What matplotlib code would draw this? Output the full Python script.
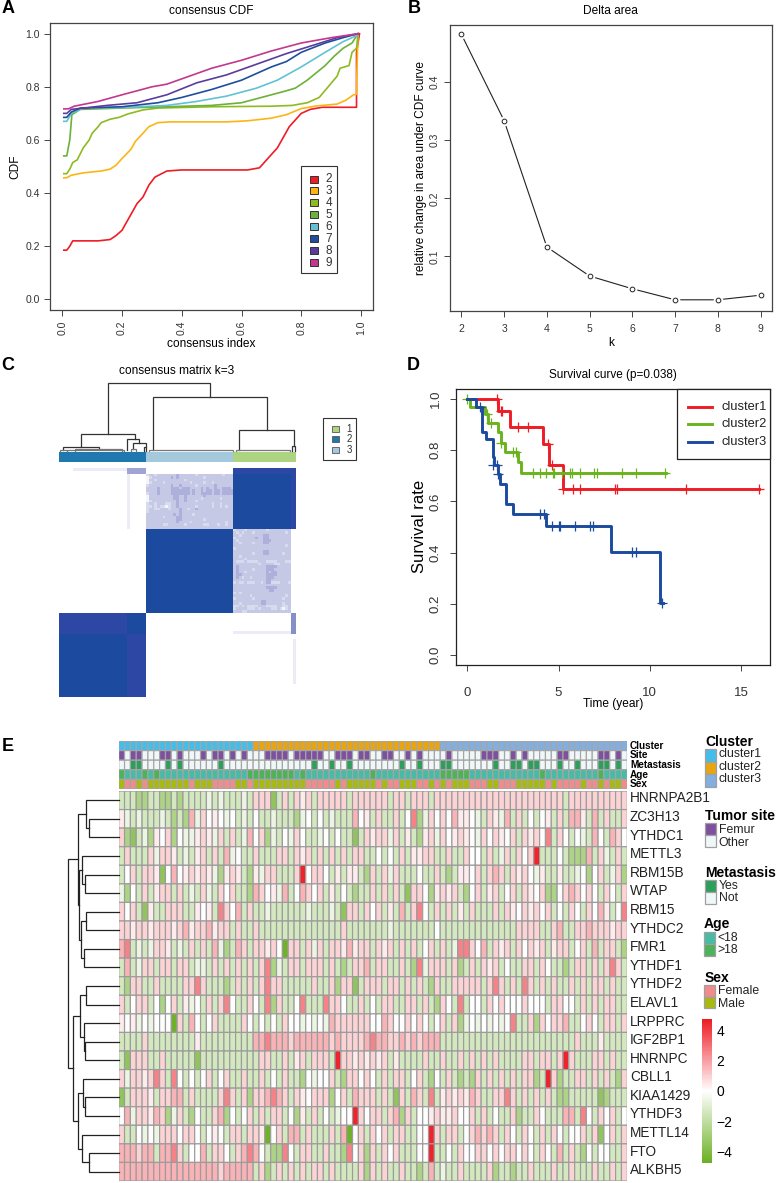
import numpy as np
import matplotlib
matplotlib.use("Agg")
import matplotlib.pyplot as plt
from matplotlib.colors import LinearSegmentedColormap, ListedColormap
from matplotlib.patches import Rectangle

plt.rcParams['font.family'] = ['Liberation Sans', 'DejaVu Sans']

W, H = 777, 1183

# ---- A: consensus CDF
cdf_labels = ['2', '3', '4', '5', '6', '7', '8', '9']
cdf_colors = ['#EE1C25', '#FDB515', '#8DBB1F', '#6BB13A', '#62C2D4', '#1F4E9E', '#5B3C9E', '#C2388E']
cdf_x = [
    [.005, .015, .025, .035, .12, .16, .18, .2, .22, .24, .25, .27, .29, .31, .35, .4, .62, .66, .68, .72, .74, .76, .78, .8, .83, .87, .985, .985, .995],
    [.005, .015, .03, .07, .13, .16, .18, .2, .23, .245, .27, .29, .32, .36, .55, .62, .7, .75, .8, .85, .92, .95, .975, .985, .985, .99],
    [.005, .015, .025, .035, .05, .07, .09, .1, .12, .13, .16, .19, .22, .27, .32, .5, .7, .77, .82, .86, .89, .92, .93, .96, .97, .985, .99],
    [.005, .015, .025, .032, .06, .2, .35, .5, .6, .65, .75, .78, .82, .88, .91, .94, .97, .99],
    [.005, .015, .03, .07, .2, .35, .45, .55, .65, .72, .8, .88, .94, .99],
    [.005, .015, .03, .06, .2, .32, .4, .5, .6, .7, .75, .8, .88, .94, .99],
    [.005, .015, .03, .15, .25, .35, .45, .55, .65, .75, .85, .92, .99],
    [.005, .02, .04, .12, .2, .3, .35, .45, .5, .6, .7, .8, .9, .99],
]
cdf_y = [
    [.185, .185, .2, .22, .22, .225, .24, .26, .3, .34, .36, .385, .43, .46, .483, .487, .487, .495, .52, .57, .61, .65, .675, .7, .715, .723, .723, .93, 1.0],
    [.457, .458, .467, .476, .483, .49, .505, .53, .565, .595, .625, .65, .665, .668, .668, .672, .682, .695, .718, .728, .735, .75, .77, .772, .8, 1.0],
    [.473, .473, .49, .515, .525, .57, .6, .625, .65, .665, .678, .685, .698, .713, .72, .725, .727, .73, .74, .76, .8, .84, .87, .88, .93, .945, 1.0],
    [.54, .54, .6, .695, .715, .72, .725, .73, .74, .755, .785, .795, .825, .88, .915, .945, .965, 1.0],
    [.67, .67, .7, .72, .722, .73, .745, .765, .795, .825, .875, .93, .97, .995],
    [.685, .685, .705, .72, .725, .74, .76, .79, .825, .875, .895, .93, .965, .985, 1.0],
    [.7, .7, .715, .73, .74, .77, .815, .845, .885, .925, .96, .985, 1.0],
    [.717, .717, .727, .745, .77, .8, .81, .85, .87, .9, .935, .965, .985, 1.0],
]

# ---- B: delta area
delta_k = [2, 3, 4, 5, 6, 7, 8, 9]
delta_area = [.483, .334, .116, .066, .044, .025, .025, .033]

# ---- C: consensus matrix, read as cluster sizes and the two textured blocks
c_sizes = [32, 32, 23]
c_bar_colors = ['#1F78AE', '#A4C9DC', '#ACD481']
c_texture_a = [
    "12212222222322222212222222221222", "01222222232322222222212222222222",
    "02212222222222122222222222222222", "01222212222222221222212212222222",
    "12222222232232222212222223222222", "22223222233323332222323223223332",
    "22223222233333332322323323323333", "12223222233333332322333323323333",
    "02222222223322322222232222222222", "02222222223322322222122222212222",
    "01222222222322322212222222222222", "12212221122322222222222212212222",
    "11212110122322222212222212212122", "12211222122232212232222222222222",
    "12222222222232222222222222222222", "22222222223232222122222222222222",
    "22222212222332222222222222222222", "22222222222332222222212222222222",
    "22222222222322221222222222222122", "22222211222222122222211222122122",
    "22222222222222222222222222222222",
]
c_texture_b = [
    "122212222222122222222", "212122212222222222212", "221222222223322222222", "122222223223322222222",
    "212222222223332222222", "221222212223322222222", "222222222222222222212", "122222222222222222222",
    "222222222223322222222", "222222212223322222122", "221222222222222222222", "222212222222222222222",
    "211121111222111122211", "222222222122222112222", "232222222222333322222", "232222212222333222222",
    "232212222222323322222", "233222222222333322222", "232122122222333222222", "222222222222332222222",
    "121121112212331112221", "222222222222222222222", "222222222222333322222", "222222222222233222222",
    "121222222222222222222", "222222122222222222212", "122222212222222222122", "222222222233222222222",
    "221222222233222222122", "112121111222111122112", "122221112122221121012", "222112222222222222222",
]

# ---- C: dendrogram links, xleft xright height hleft hright (samples / relative height)
c_links = [
    (18.1, 55.3, 1.0, .245, .784), (34.4, 76.3, .784, .01, .30), (66, 86.2, .30, .01, .074),
    (64.9, 84.8, .01, 0, 0), (85.7, 86.8, .074, 0, 0), (33, 64, .01, 0, 0),
    (8.1, 27.8, .245, .05, .167), (25.1, 29.5, .167, .01, .108), (27.3, 31.8, .108, .02, .05),
    (31.3, 32, .05, 0, 0), (26.5, 28.3, .02, 0, 0), (1.6, 14.8, .05, .01, .02),
    (6, 23, .02, 0, 0), (0.5, 3, .01, 0, 0), (3, 24, .01, 0, 0),
]

# ---- D: survival
surv_names = ['cluster1', 'cluster2', 'cluster3']
surv_colors = ['#EE1C25', '#6BB31E', '#1C4A9E']
surv_t = [
    [0, 1.7, 2.34, 4.17, 4.48, 5.23, 16.0],
    [0, .16, .97, 1.15, 1.7, 1.85, 2.07, 2.76, 2.93, 10.9],
    [0, .5, .78, 1.04, 1.39, 1.48, 1.66, 1.81, 2.1, 2.52, 4.3, 7.88, 10.57, 10.7],
]
surv_s = [
    [1, .953, .89, .823, .741, .647, .647],
    [1, .97, .94, .905, .87, .83, .794, .753, .711, .711],
    [1, .97, .872, .842, .775, .742, .707, .668, .589, .55, .505, .404, .202, .202],
]
cens_t = [
    [1.6, 1.85, 1.9, 2.8, 3.3, 4.4, 4.66, 5.23, 5.8, 6.2, 8.1, 8.2, 12, 16],
    [0, 1.1, 1.3, 1.85, 2.5, 2.67, 3.6, 4.0, 4.3, 4.7, 4.75, 5.2, 5.63, 5.75, 6.18, 6.95, 7.13, 8.48, 9.25, 10.85],
    [.7, 1.43, 1.6, 1.66, 4.0, 4.2, 4.66, 5.05, 5.1, 5.9, 6.75, 6.87, 9.0, 9.25, 10.65],
]
cens_s = [
    [1, .953, .953, .89, .89, .823, .741, .647, .647, .647, .647, .647, .647, .647],
    [1, .94, .905, .83, .794, .794, .711, .711, .711, .711, .711, .711, .711, .711, .711, .711, .711, .711, .711, .711],
    [.97, .742, .742, .707, .55, .55, .505, .505, .505, .505, .505, .505, .404, .404, .202],
]

# ---- E: heatmap
genes = ['HNRNPA2B1', 'ZC3H13', 'YTHDC1', 'METTL3', 'RBM15B', 'WTAP', 'RBM15', 'YTHDC2', 'FMR1', 'YTHDF1', 'YTHDF2',
         'ELAVL1', 'LRPPRC', 'IGF2BP1', 'HNRNPC', 'CBLL1', 'KIAA1429', 'YTHDF3', 'METTL14', 'FTO', 'ALKBH5']
heat_rows = [
    "3332233223 2333343433 3437771373 7673777773 7777773773 7773777777 7777777777 7777773777 7777777",
    "6434333432 3284756545 3435334333 2453534333 8563733735 9247575866 5437648373 5356373886 3837337",
    "7213426572 5446764737 3485724354 7533453533 1376774736 3267475676 5475765737 6759375354 3853875",
    "3733374776 3436737384 5337333773 7673737373 7733535373 6677337337 5537347375 7R33353222 8374373",
    "3573776158 5676764267 6326477333 7R57753636 6327374733 3533732366 5737873767 5463363345 2573472",
    "4253736773 7343743757 3328756483 5875736353 2337373731 7752676732 5736735737 6572257875 7537537",
    "7573163377 7336563975 8373343333 3343334317 7375736383 7953737363 7333737657 6757353753 7586359",
    "7767767776 7867786773 7337333333 3333333373 3333334333 3333533333 3333333377 7733783377 8777677",
    "8934347763 4373738423 8737767507 7374737768 6773767373 7357373499 7583767375 7673677357 3837732",
    "3834773773 7734437373 7373792437 7377737323 7783773373 2947773723 7376735337 7375332377 3737973",
    "3277337333 3779733323 7373797733 3337337277 1377737737 3732733777 7737973739 7373733737 3773733",
    "7357735257 3645373795 3375392733 5933397753 3735377337 7373275393 5537575557 5553775537 3737733",
    "6564545550 7385357333 3753535375 5454548777 7775587557 5753573724 5454545933 7275778335 7537737",
    "3333733333 3336333333 3338898887 8888887877 7789887787 8788833333 3333333333 3333333373 3363333",
    "3177733733 3331333333 3333773373 6737773R77 6767673633 3373373373 7373733337 737737R733 3773733",
    "7477679739 5353573573 3733735373 3254557327 7575373773 5732537323 2737373737 723R723377 3737327",
    "1377763778 8373333797 3727789873 7657772573 8777373173 8739367676 8733779737 3737322333 3312333",
    "5847768724 7325337825 3573737735 2637353455 R757737827 3556766755 7373533723 3753338839 5375735",
    "7335454777 5775356537 7377605738 8373337380 5737573773 355R737735 7878737537 5373753557 3715737",
    "8887883889 7355837753 7898532295 3773373329 5727375733 355R335375 5775757757 5375383732 5355337",
    "8888888888 8888888788 8883723737 3737737333 3727373373 3238343373 3337233233 7333733733 3733737",
]
heat_levels = {'0': -4.6, '1': -3.5, '2': -2.6, '3': -1.4, '4': -.6, '5': 0, '6': .4, '7': .9, '8': 1.6, '9': 2.6, 'R': 4.6}

cluster_sizes = [23, 32, 32]
site_femur = [0, 2, 3, 7, 8, 10, 14, 16, 17, 19, 21, 25, 26, 27, 28, 30, 31, 32, 33, 34, 37, 38, 39, 41, 42, 45, 46, 49, 51,
              56, 62, 63, 64, 67, 69, 75, 76, 82, 83, 85]
meta_yes = [2, 3, 8, 10, 17, 33, 36, 39, 48, 51, 55, 56, 64, 67, 68, 70, 71, 75, 78, 82, 83, 85]
age_over = [0, 4, 6, 22, 23, 24, 25, 26, 27, 28, 29, 31, 43, 55, 56, 57, 58, 59, 72, 82]
sex_male = [0, 3, 5, 6, 7, 8, 9, 10, 11, 13, 14, 15, 20, 21, 23, 24, 25, 26, 27, 28, 29, 30, 31, 37, 39, 40, 41, 42, 43, 45,
            48, 49, 50, 53, 55, 57, 58, 59, 63, 64, 68, 69, 70, 71, 72, 74, 79, 82, 84, 85]
anno_names = ['Cluster', 'Site', 'Metastasis', 'Age', 'Sex']

# gene tree: (height, left, right), leaves are row numbers
gene_tree = (153,
             (123, (100, 0, (90, 1, 2)),
              (120, (110, 3, (103, 4, 5)), (113, (100, 6, 7), (105, 8, 9)))),
             (138, (116, (100, 10, 11), (106, 12, (101, 13, 14))),
              (123, (108, 15, (101, 16, 17)), (110, 18, (91, 19, 20)))))

fig = plt.figure(figsize=(W / 100, H / 100), dpi=100)


def box(l, t, r, b):
    return fig.add_axes([l / W, 1 - b / H, (r - l) / W, (b - t) / H])


def r_axes(ax, l, r, t, b, x0, xs, y0, ys):
    # x0/y0 pixel of value 0, xs/ys pixels per unit
    ax.set_xlim((l - x0) / xs, (r - x0) / xs)
    ax.set_ylim((b - y0) / ys, (t - y0) / ys)
    for s in ax.spines.values():
        s.set_color('#444444')
        s.set_linewidth(.9)
    ax.tick_params(length=4, width=.7, color='#444444', labelcolor='#333333')


# A
ax = box(50.3, 23.3, 372.7, 310)
r_axes(ax, 50.3, 372.7, 23.3, 310, 62.3, 298.7, 299.3, -265.6)
for xs_, ys_, c in zip(cdf_x, cdf_y, cdf_colors):
    ax.plot(xs_, ys_, color=c, lw=1.2)
ax.set_xticks([0, .2, .4, .6, .8, 1])
ax.set_xticklabels(['0.0', '0.2', '0.4', '0.6', '0.8', '1.0'], rotation=90, fontsize=7.5)
ax.set_yticks([0, .2, .4, .6, .8, 1])
ax.set_yticklabels(['0.0', '0.2', '0.4', '0.6', '0.8', '1.0'], fontsize=7.5)
ax.set_xlabel('consensus index', fontsize=8.6, labelpad=2.5)
ax.set_ylabel('CDF', fontsize=8.6, labelpad=3)
ax.set_title('consensus CDF', fontsize=8.6, pad=7)

# B
ax = box(450, 24.7, 771.7, 310.7)
r_axes(ax, 450, 771.7, 24.7, 310.7, 461.3 - 2 * 42.77, 42.77, 314.3, -580)
ax.plot(delta_k, delta_area, color='#222222', lw=.8)
ax.plot(delta_k, delta_area, ls='', marker='o', ms=7, color='white', mew=0)
ax.plot(delta_k, delta_area, ls='', marker='o', ms=3.4, mfc='white', mec='#222222', mew=.7)
ax.set_xticks(delta_k)
ax.set_yticks([.1, .2, .3, .4])
ax.set_yticklabels(['0.1', '0.2', '0.3', '0.4'], rotation=90, va='center', fontsize=7.5)
ax.tick_params(axis='x', labelsize=7.5, pad=5.5)
ax.set_xlabel('k', fontsize=8.6, labelpad=2)
ax.set_ylabel('relative change in area under CDF curve', fontsize=8.6, labelpad=2)
ax.set_title('Delta area', fontsize=8.6, pad=8)

# C matrix
n = sum(c_sizes)
mat = np.zeros((n, n))
tex = {'0': .04, '1': .15, '2': .22, '3': .34}
a_end, b_end = c_sizes[0], c_sizes[0] + c_sizes[1]
r1_end, r3_end = c_sizes[2], c_sizes[2] + c_sizes[1]
mat[:r1_end, b_end:] = 1
mat[:2, b_end:] = .85
mat[:r1_end, -2:] = .85
mat[r1_end:r3_end, a_end:b_end] = 1
mat[r3_end:, :a_end] = 1
mat[r3_end:r3_end + 8, :25] = .85
mat[r3_end + 8:, 25:a_end] = .85
for i, row in enumerate(c_texture_a):
    mat[2 + i, a_end:b_end] = [tex[v] for v in row]
for i, row in enumerate(c_texture_b):
    mat[r1_end + i, b_end:b_end + 21] = [tex[v] for v in row]
mat[0, 5:25] = .08
mat[:2, 25:a_end] = .4
mat[2:r1_end, 25:26] = .08
mat[r3_end:r3_end + 8, -2:] = .5
mat[r3_end + 7, b_end:-2] = .08
mat[r3_end + 10:r3_end + 27, -1] = .08

c_cmap = LinearSegmentedColormap.from_list('cons', [(0, 'white'), (.22, '#C6C9E6'), (.36, '#A9ACD9'),
                                                    (.85, '#2C48A4'), (1, '#1C4A9E')])
ax = box(59, 468.3, 296, 696.7)
ax.pcolormesh(mat, cmap=c_cmap, vmin=0, vmax=1)
ax.invert_yaxis()
ax.axis('off')

ax = box(59, 452, 296, 462.3)
bar = np.repeat([0, 1, 2], c_sizes)[None, :]
ax.pcolormesh(bar, cmap=ListedColormap(c_bar_colors), vmin=0, vmax=2)
ax.axis('off')

ax = box(59, 382.7, 296, 450.7)
ax.set_xlim(0, n)
ax.set_ylim(0, 1)
ax.axis('off')
for xl, xr, h, hl, hr in c_links:
    c = '#333333' if h > .03 else '#777777'
    ax.plot([xl, xl, xr, xr], [hl, h, h, hr], color=c, lw=.9, solid_joinstyle='miter', clip_on=False)

# D
ax = box(455.7, 388.7, 770, 665)
r_axes(ax, 455.7, 770, 388.7, 665, 467.3, 18.25, 655, -256)
for t, s, ct, cs, c in zip(surv_t, surv_s, cens_t, cens_s, surv_colors):
    ax.step(t, s, where='post', color=c, lw=2.1)
    ax.plot(ct, cs, ls='', marker='+', ms=7.5, mew=.9, color=c)
ax.set_xticks([0, 5, 10, 15])
ax.set_yticks([0, .2, .4, .6, .8, 1])
ax.set_yticklabels(['0.0', '0.2', '0.4', '0.6', '0.8', '1.0'], rotation=90, va='center', fontsize=9.5)
ax.tick_params(axis='y', pad=6)
ax.tick_params(axis='x', labelsize=9.5, pad=12)
ax.set_xlabel('Time (year)', fontsize=8.6, labelpad=-1)
ax.set_ylabel('Survival rate', fontsize=12, labelpad=2)
ax.set_title('Survival curve (p=0.038)', fontsize=8.5, pad=8)
for s in ax.spines.values():
    s.set_color('#222222')

# E heatmap
heat = []
for row in heat_rows:
    vals = [heat_levels[v] for v in row.replace(' ', '')]
    if len(vals) != 87:
        raise ValueError(row)
    heat.append(vals)
heat = np.array(heat)
heat_cmap = LinearSegmentedColormap.from_list('gwr', ['#6AB023', 'white', '#EE1C25'])
ax = box(118.7, 791, 627.3, 1181)
# no snapping, the 5.85 px cells would otherwise get uneven 1 or 2 px borders
mesh = ax.pcolormesh(heat, cmap=heat_cmap, vmin=-4.75, vmax=4.75, edgecolors='#9C9C9C', linewidth=.85,
                     antialiased=True, snap=False)
ax.invert_yaxis()
ax.axis('off')

# annotation strip
anno_cols = ['#46BDE8', '#E8A511', '#82AEE0', '#7E519F', '#EFF7F8', '#2D9E5B', '#47BBA4', '#4DB359', '#F08C8C', '#A8B90F']
strip = np.zeros((5, 87), dtype=int)
strip[0] = np.repeat([0, 1, 2], cluster_sizes)
strip[1] = 4
strip[1, site_femur] = 3
strip[2] = 4
strip[2, meta_yes] = 5
strip[3] = 6
strip[3, age_over] = 7
strip[4] = 8
strip[4, sex_male] = 9
ax = box(118.7, 741, 627.3, 789)
ax.pcolormesh(strip, cmap=ListedColormap(anno_cols), vmin=0, vmax=9, edgecolors='#A5A5A5', linewidth=.85,
              antialiased=True, snap=False)
ax.invert_yaxis()
ax.axis('off')


def draw_tree(ax, node):
    if not isinstance(node, tuple):
        return node + .5, 0
    h, left, right = node
    y1, h1 = draw_tree(ax, left)
    y2, h2 = draw_tree(ax, right)
    ax.plot([h1, h, h, h2], [y1, y1, y2, y2], color='#222222', lw=.9, solid_joinstyle='miter', clip_on=False)
    return (y1 + y2) / 2, h


ax = box(60, 791, 119, 1181)
ax.set_xlim(177, 0)
ax.set_ylim(21, 0)
ax.axis('off')
draw_tree(ax, gene_tree)

cax = box(702.3, 1019.3, 712.3, 1162.7)
cb = fig.colorbar(mesh, cax=cax, ticks=[-4, -2, 0, 2, 4])
cb.outline.set_visible(False)
cb.solids.set_edgecolor('face')
cb.solids.set_linewidth(0)
cb.ax.tick_params(length=0, labelsize=10, pad=3)

# pixel overlay for legends and text
pg = fig.add_axes([0, 0, 1, 1], zorder=5)
pg.set_xlim(0, W)
pg.set_ylim(H, 0)
pg.axis('off')
pg.patch.set_alpha(0)

for letter, x, y in [('A', 2, 8), ('B', 408, 8), ('C', 1, 365), ('D', 407, 365), ('E', 2, 746)]:
    pg.text(x, y, letter, fontsize=13, fontweight='bold', va='center', ha='left')

# A legend
pg.add_patch(Rectangle((300.7, 166), 36, 107, fc='white', ec='#333333', lw=.8))
for i, (lab, c) in enumerate(zip(cdf_labels, cdf_colors)):
    y = 179 + i * 11.95
    pg.add_patch(Rectangle((309.5, y - 3.5), 8.5, 7, fc=c, ec='#333333', lw=.7))
    pg.text(329, y, lab, fontsize=8.5, ha='center', va='center', color='#333333')

# C title and legend
pg.text(176.5, 370.5, 'consensus matrix k=3', fontsize=8.6, ha='center', va='center')
pg.add_patch(Rectangle((323.3, 417.7), 33, 42.5, fc='white', ec='#333333', lw=.8))
for i, (lab, c) in enumerate(zip(['1', '2', '3'], [c_bar_colors[2], c_bar_colors[0], c_bar_colors[1]])):
    y = 428.5 + i * 10.8
    pg.add_patch(Rectangle((331.5, y - 3), 7, 6, fc=c, ec='#555555', lw=.6))
    pg.text(349, y, lab, fontsize=7, ha='center', va='center', color='#333333')

# D legend
pg.add_patch(Rectangle((677.3, 388.7), 92.7, 70, fc='white', ec='#222222', lw=.9))
for i, (lab, c) in enumerate(zip(surv_names, surv_colors)):
    y = 406.5 + i * 17.5
    pg.plot([687.5, 712], [y, y], color=c, lw=2.1)
    pg.text(722, y, lab, fontsize=9.3, va='center', color='#222222')

# E labels, annotation names are packed as tightly as the strip rows
for i, name in enumerate(anno_names):
    pg.text(630, 745.5 + i * 9.7, name, fontsize=7.2, fontweight='bold', va='center')
for i, name in enumerate(genes):
    pg.text(630, 798.3 + i * 18.6, name, fontsize=9.8, va='center', color='#222222')


def legend(title, tx, ty, sx, tops, labels, ys, cols):
    pg.text(tx, ty, title, fontsize=10, fontweight='bold', va='center')
    for j in range(len(labels)):
        pg.add_patch(Rectangle((sx, tops[j]), 10.5, tops[j + 1] - tops[j], fc=cols[j], ec='#A0A0A0', lw=.9))
        pg.text(sx + 13.5, ys[j], labels[j], fontsize=8.8, va='center', color='#222222')


legend('Cluster', 705, 741.7, 705, [749, 761.7, 774.3, 786.7], ['cluster1', 'cluster2', 'cluster3'], [754, 766.5, 779], anno_cols[:3])
legend('Tumor site', 705, 816, 705, [823.3, 835, 847.3], ['Femur', 'Other'], [830, 842.7], anno_cols[3:5])
legend('Metastasis', 705, 872.7, 705, [880, 891.7, 904], ['Yes', 'Not'], [885.5, 898], [anno_cols[5], anno_cols[4]])
legend('Age', 704, 924, 704, [932.3, 944, 955.7], ['<18', '>18'], [937.5, 950], anno_cols[6:8])
legend('Sex', 704.3, 978, 704.3, [985, 996.7, 1008.3], ['Female', 'Male'], [991, 1004], anno_cols[8:10])

fig.savefig('out.png', dpi=100)
